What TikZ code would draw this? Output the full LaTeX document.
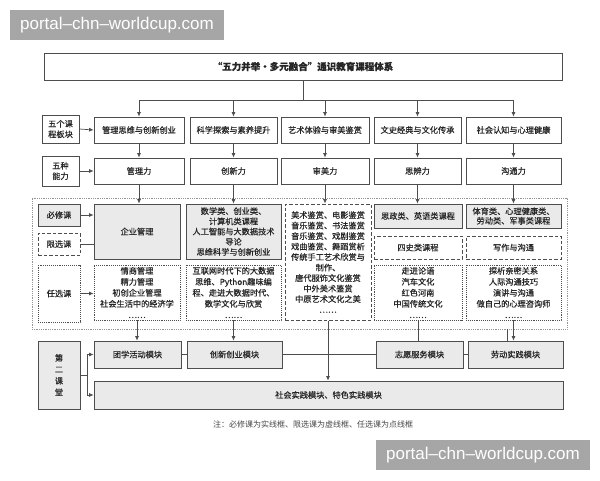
\documentclass[tikz,border=0pt]{standalone}
\usepackage{fontspec}
\setmainfont{Noto Sans CJK SC}[FakeBold=0.5]
\newfontfamily\notefont{Noto Sans CJK SC}
\newfontfamily\wmfont{Liberation Sans}
\usepackage{tikz}
\usetikzlibrary{arrows.meta}
\definecolor{lnc}{HTML}{4D4D4D}
\definecolor{bgc}{HTML}{EAEAEA}
\definecolor{txc}{HTML}{262626}
\definecolor{wmc}{HTML}{A6A6A6}

\begin{document}
\begin{tikzpicture}[x=1pt, y=-1pt,
		box/.style={
			draw=lnc,
			line width=0.8pt,
			fill=white,
			text=txc,
			align=center,
			inner sep=1pt,
			font=\fontsize{8.2}{10.5}\selectfont
		},
		req/.style={box, fill=bgc},
		lim/.style={box, dash pattern=on 3.5pt off 2pt, line width=1pt},
		opt/.style={box, dash pattern=on 0.8pt off 1.1pt},
		frm/.style={draw=lnc!60, line width=0.6pt, dash pattern=on 0.6pt off 1.2pt},
		ln/.style={draw=lnc, line width=0.7pt},
		arr/.style={ln, -{Latex[length=4.5pt, width=4pt]}},
		wm/.style={fill=wmc, text=white, inner sep=0pt, font=\wmfont\fontsize{17}{17}\selectfont}]
		\useasboundingbox (0,0) rectangle (600,480);
		\fill[white] (0,0) rectangle (600,480);
		
		\node at (117,25)[wm, minimum width=214pt, minimum height=30pt](wm1){portal–chn–worldcup.com};
		\node at (483,455)[wm, minimum width=214pt, minimum height=30pt](wm2){portal–chn–worldcup.com};
		
		\node at (303,66.5)[box, minimum width=518pt, minimum height=27pt, font=\bfseries\fontsize{9.5}{11}\selectfont](title){“五力并举•多元融合”通识教育课程体系};
		
		\node at (60.5,129)[box, minimum width=37pt, minimum height=28pt](lab1){五个课\\程板块};
		\node at (139,130)[box, minimum width=90pt, minimum height=26pt](m1){管理思维与创新创业};
		\node at (233.5,130)[box, minimum width=87pt, minimum height=26pt](m2){科学探索与素养提升};
		\node at (325,130)[box, minimum width=88pt, minimum height=26pt](m3){艺术体验与审美鉴赏};
		\node at (417.5,130)[box, minimum width=87pt, minimum height=26pt](m4){文史经典与文化传承};
		\node at (513.5,130)[box, minimum width=95pt, minimum height=26pt](m5){社会认知与心理健康};
		
		\node at (60.5,171)[box, minimum width=37pt, minimum height=30pt](lab2){五种\\能力};
		\node at (139,171)[box, minimum width=90pt, minimum height=26pt](a1){管理力};
		\node at (233.5,171)[box, minimum width=87pt, minimum height=26pt](a2){创新力};
		\node at (325,171)[box, minimum width=88pt, minimum height=26pt](a3){审美力};
		\node at (417.5,171)[box, minimum width=87pt, minimum height=26pt](a4){思辨力};
		\node at (513.5,171)[box, minimum width=95pt, minimum height=26pt](a5){沟通力};
		
		\node at (299.5,263.5)[frm, minimum width=535pt, minimum height=131pt](frame){};
		\node at (59,215)[req, minimum width=42pt, minimum height=22pt](bx){必修课};
		\node at (59,244)[lim, minimum width=42pt, minimum height=22pt](xx){限选课};
		\node at (59,293.5)[opt, minimum width=42pt, minimum height=57pt](rx){任选课};
		
		\node at (137,231.5)[req, minimum width=86pt, minimum height=55pt](c1req){企业管理};
		\node at (233.5,231.5)[req, minimum width=95pt, minimum height=55pt, font=\fontsize{8.2}{10.2}\selectfont](c2req){数学类、创业类、\\计算机类课程\\人工智能与大数据技术\\导论\\思维科学与创新创业};
		\node at (328,262)[lim, minimum width=86pt, minimum height=116pt](c3lim){美术鉴赏、电影鉴赏\\音乐鉴赏、书法鉴赏\\音乐鉴赏、戏剧鉴赏\\戏曲鉴赏、舞蹈赏析\\传统手工艺术欣赏与\\制作、\\唐代服饰文化鉴赏\\中外美术鉴赏\\中原艺术文化之美\\……};
		\node at (418,216)[req, minimum width=88pt, minimum height=24pt](c4req){思政类、英语类课程};
		\node at (418,247.5)[lim, minimum width=88pt, minimum height=23pt](c4lim){四史类课程};
		\node at (513.5,216)[req, minimum width=95pt, minimum height=24pt, font=\fontsize{8.2}{9.5}\selectfont](c5req){体育类、心理健康类、\\劳动类、军事类课程};
		\node at (513.5,247.5)[lim, minimum width=95pt, minimum height=23pt](c5lim){写作与沟通};
		
		\node at (137,292.5)[opt, minimum width=86pt, minimum height=55pt, font=\fontsize{8.2}{11}\selectfont](c1opt){情商管理\\精力管理\\初创企业管理\\社会生活中的经济学\\……};
		\node at (233.5,292.5)[opt, minimum width=95pt, minimum height=55pt, font=\fontsize{8.2}{11}\selectfont](c2opt){互联网时代下的大数据\\思维、Python趣味编\\程、走进大数据时代、\\数学文化与欣赏\\……};
		\node at (418,292.5)[opt, minimum width=88pt, minimum height=55pt, font=\fontsize{8.2}{11}\selectfont](c4opt){走进论语\\汽车文化\\红色河南\\中国传统文化\\……};
		\node at (513.5,292.5)[opt, minimum width=95pt, minimum height=55pt, font=\fontsize{8.2}{11}\selectfont](c5opt){探析亲密关系\\人际沟通技巧\\演讲与沟通\\做自己的心理咨询师\\……};
		
		\node at (59,375)[req, minimum width=42pt, minimum height=68pt, font=\fontsize{8.2}{11.5}\selectfont](second){第\\二\\课\\堂};
		\node at (137.5,354.5)[req, minimum width=87pt, minimum height=27pt](t1){团学活动模块};
		\node at (234.5,354.5)[req, minimum width=95pt, minimum height=27pt](t2){创新创业模块};
		\node at (419.5,354.5)[req, minimum width=87pt, minimum height=27pt](t4){志愿服务模块};
		\node at (515.5,354.5)[req, minimum width=95pt, minimum height=27pt](t5){劳动实践模块};
		\node at (328.5,395)[req, minimum width=469pt, minimum height=28pt](t6){社会实践模块、特色实践模块};
		
		\node at (313,424)[text=txc!85, font=\notefont\fontsize{8}{10}\selectfont](note){注：必修课为实线框、限选课为虚线框、任选课为点线框};
		
		\coordinate (jt) at ([yshift=-20pt]title.south);
		\draw[ln] (title.south) -- (jt);
		\foreach \m in {m1,m2,m3,m4,m5}
			\draw[arr] (jt) -| (\m.north);
		\draw[arr] (lab1.east) -- (m1.west);
		\draw[arr] (lab2.east) -- (a1.west);
		\foreach \i in {1,...,5}
			\draw[arr] (m\i.south) -- (a\i.north);
		
		\draw[arr] (a1.south) -- (a1.south |- c1req.north);
		\draw[arr] (a2.south) -- (a2.south |- c2req.north);
		\draw[arr] (a3.south) -- (a3.south |- c3lim.north);
		\draw[arr] (a4.south) -- (a4.south |- c4req.north);
		\draw[arr] (a5.south) -- (a5.south |- c5req.north);
		
		\draw[arr] (bx.east) -- (bx.east -| c1req.west);
		\draw[ln] (xx.east) -- (xx.east -| c1req.west);
		\draw[arr] (rx.east) -- (rx.east -| c1opt.west);
		
		\draw[arr] (c1opt.south) -- (c1opt.south |- t1.north);
		\draw[arr] (c2opt.south) -- (c2opt.south |- t2.north);
		\draw[arr] (c3lim.south) -- (c3lim.south |- t6.north);
		\draw[ln] (c4opt.south) -- (c4opt.south |- t4.north);
		\draw[arr] (c5opt.south) -- (c5opt.south |- t5.north);
		\draw[ln] ([xshift=-8pt]t5.north) -- ([xshift=-8pt]t5.north |- frame.south);
		
		\draw[ln] (t1.east) -- (t2.west);
		\draw[ln] (t2.east) -- (t4.west);
		\draw[ln] (t4.east) -- (t5.west);
		
		\coordinate (sj) at ([xshift=7pt]second.east);
		\draw[ln] (second.east) -- (sj);
		\draw[arr] (sj) |- (t1.west);
		\draw[arr] (sj) |- (t6.west);
	\end{tikzpicture}
\end{document}
